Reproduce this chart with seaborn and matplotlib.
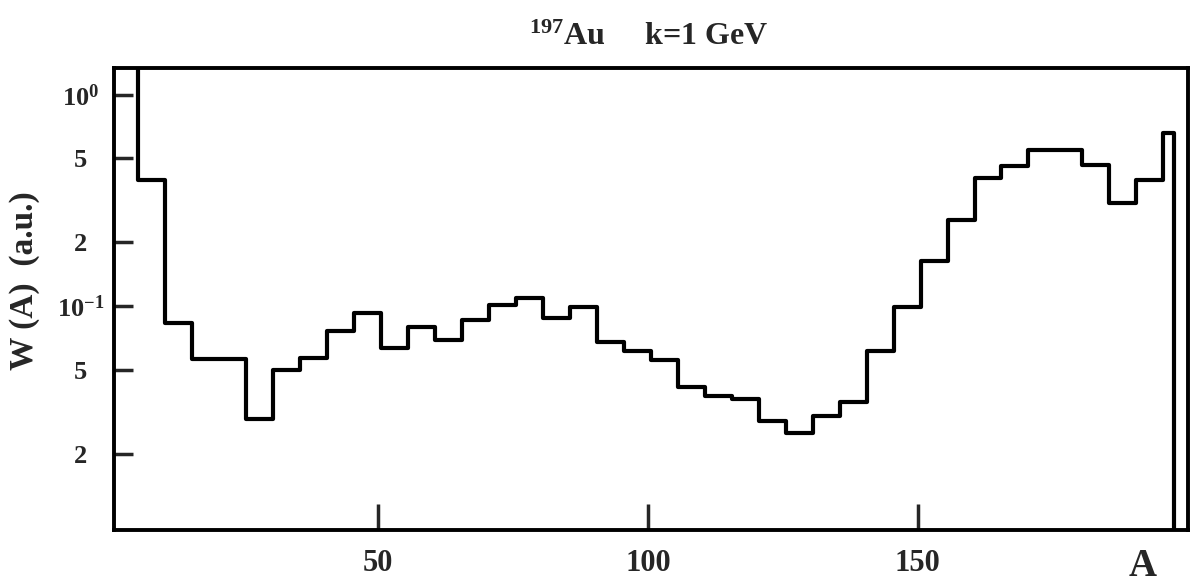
import numpy as np
import pandas as pd
import matplotlib
matplotlib.use("Agg")
import matplotlib.pyplot as plt
import seaborn as sns
from matplotlib.ticker import FixedLocator, NullLocator, FixedFormatter

# ---- data ----
bin_edges = [0.5 + 5 * k for k in range(40)] + [197.5]
w_values = [1.6, 0.395, 0.0834, 0.0559, 0.0559, 0.0292, 0.0498, 0.0565, 0.0762, 0.0923,
            0.0633, 0.0793, 0.0690, 0.0859, 0.1011, 0.1088, 0.0874, 0.0986, 0.0678, 0.0614,
            0.0555, 0.0415, 0.0376, 0.0362, 0.0286, 0.0250, 0.0303, 0.0350, 0.0614, 0.0986,
            0.164, 0.254, 0.402, 0.460, 0.547, 0.547, 0.465, 0.308, 0.395, 0.661]
x_ticks = [50, 100, 150]
x_tick_labels = ["50", "100", "150"]
y_ticks = [1.0, 0.5, 0.2, 0.1, 0.05, 0.02]
y_tick_labels = [r"$10^{0}$", "5", "2", r"$10^{-1}$", "5", "2"]
title_text = r"$^{197}$Au     k=1 GeV"
x_label = "A"
y_label = "W (A)  (a.u.)"
x_limits = (1.0, 200.0)
y_limits = (0.00871, 1.338)

sns.set_style("ticks")
plt.rcParams["font.family"] = ["Liberation Serif", "DejaVu Serif"]
plt.rcParams["font.weight"] = "bold"
plt.rcParams["mathtext.fontset"] = "custom"
plt.rcParams["mathtext.rm"] = "Liberation Serif:bold"
plt.rcParams["mathtext.it"] = "Liberation Serif:bold"
plt.rcParams["mathtext.bf"] = "Liberation Serif:bold"

# step outline: horizontal at each bin value, final drop to the axis floor
xs = list(bin_edges[:-1]) + [bin_edges[-1], bin_edges[-1]]
ys = list(w_values) + [w_values[-1], y_limits[0]]
df = pd.DataFrame({"A": xs, "W": ys})

fig = plt.figure(figsize=(11.9, 5.84), dpi=100)
ax = fig.add_axes([0.0958, 0.0925, 0.9022, 0.7911])

sns.lineplot(data=df, x="A", y="W", drawstyle="steps-post", estimator=None, sort=False,
             color="black", linewidth=3.0, ax=ax)

ax.set_yscale("log")
ax.set_xlim(*x_limits)
ax.set_ylim(*y_limits)

ax.xaxis.set_major_locator(FixedLocator(x_ticks))
ax.xaxis.set_major_formatter(FixedFormatter(x_tick_labels))
ax.xaxis.set_minor_locator(NullLocator())
ax.yaxis.set_major_locator(FixedLocator(y_ticks))
ax.yaxis.set_major_formatter(FixedFormatter(y_tick_labels))
ax.yaxis.set_minor_locator(NullLocator())

for s in ax.spines.values():
    s.set_linewidth(2.8)
    s.set_color("black")
    s.set_visible(True)

ax.tick_params(axis="x", direction="in", length=19, width=2.5, labelsize=22, pad=14)
ax.tick_params(axis="y", direction="in", length=14, width=2.5, labelsize=19, pad=24)
for lab in ax.get_yticklabels():
    lab.set_horizontalalignment("center")
    lab.set_fontweight("bold")
for lab in ax.get_xticklabels():
    lab.set_fontweight("bold")

ax.set_xlabel(x_label, fontsize=28, fontweight="bold")
ax.xaxis.set_label_coords(0.958, -0.038)
ax.set_ylabel(y_label, fontsize=24, fontweight="bold")
ax.yaxis.set_label_coords(-0.069, 0.539)

fig.text(0.545, 0.923, title_text, ha="center", va="baseline", fontsize=23, fontweight="bold")

fig.savefig("out.png", dpi=100, facecolor="white")
